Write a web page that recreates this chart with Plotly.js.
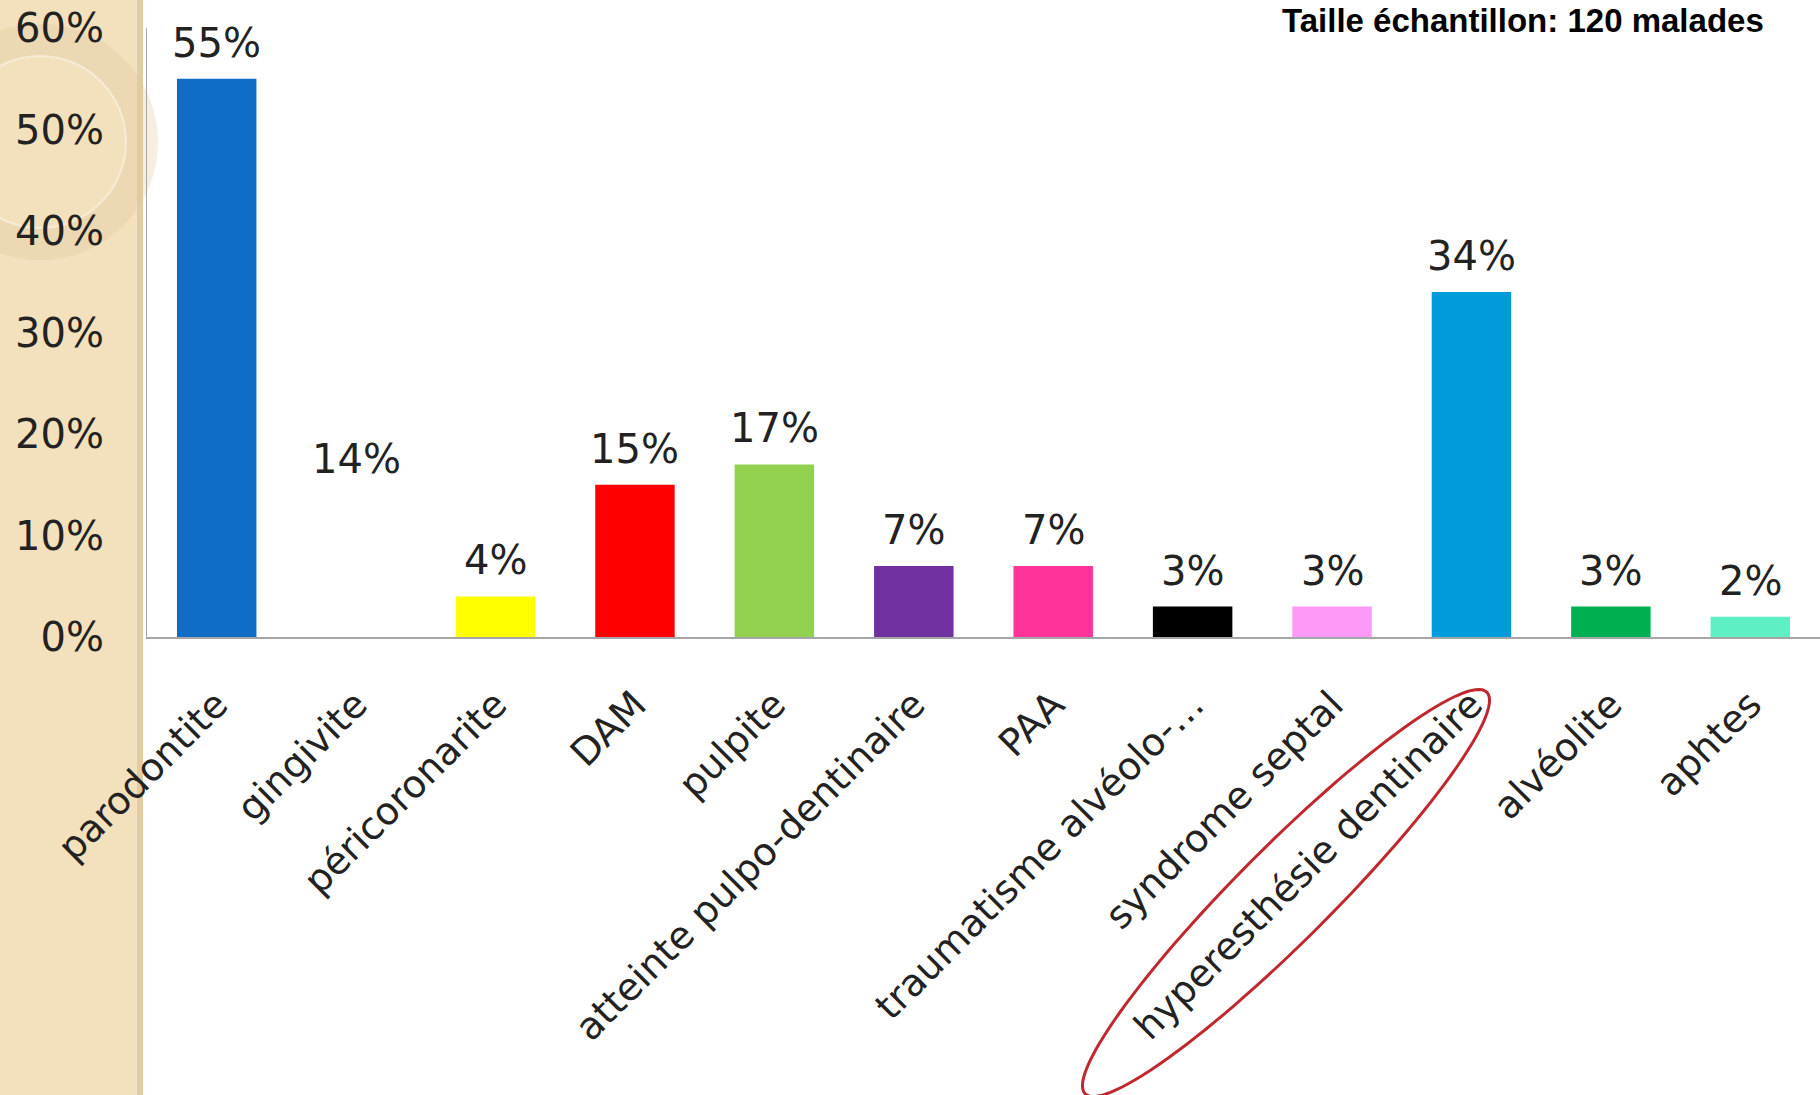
<!DOCTYPE html>
<html>
<head>
<meta charset="utf-8">
<script src="https://cdn.plot.ly/plotly-3.0.1.min.js"></script>
<style>
html,body{margin:0;padding:0;background:#fff;}
#chart{width:1820px;height:1095px;}
</style>
</head>
<body>
<div id="chart"></div>
<script>
// ---- data ----
const categories = ["parodontite","gingivite","péricoronarite","DAM","pulpite","atteinte pulpo-dentinaire","PAA","traumatisme alvéolo-…","syndrome septal","hyperesthésie dentinaire","alvéolite","aphtes"];
const values = [55, 14, 4, 15, 17, 7, 7, 3, 3, 34, 3, 2];
const barColors = ["#116CC6","#FFFFFF","#FFFF00","#FF0000","#92D050","#7030A0","#FF3399","#000000","#FF99F8","#009BDA","#00B050","#5EF0C4"];
const yTickVals = [0,10,20,30,40,50,60];
const noteText = "Taille échantillon: 120 malades";

// ---- geometry helpers (page pixels -> paper) ----
const W = 1820, H = 1095;
const mL = 147, mR = 0, mT = 28, mB = 458;
const pw = W - mL - mR, ph = H - mT - mB;
const px = x => (x - mL) / pw;
const py = y => (H - mB - y) / ph;

function ellipsePath(cx, cy, a, b, angDeg, n) {
  const t = angDeg * Math.PI / 180;
  let d = "";
  for (let i = 0; i <= n; i++) {
    const u = 2 * Math.PI * i / n;
    const ex = a * Math.cos(u), ey = b * Math.sin(u);
    const X = cx + ex * Math.cos(t) - ey * Math.sin(t);
    const Y = cy - (ex * Math.sin(t) + ey * Math.cos(t));
    d += (i === 0 ? "M" : "L") + px(X).toFixed(5) + "," + py(Y).toFixed(5) + " ";
  }
  return d + "Z";
}

const font = "DejaVu Sans, sans-serif";

const trace = {
  type: "bar",
  x: categories,
  y: values,
  marker: {color: barColors, line: {width: 0}},
  cliponaxis: false,
  hoverinfo: "none"
};

const shapes = [
  // beige side panel
  {type: "rect", xref: "paper", yref: "paper", x0: px(0), x1: px(143), y0: py(H), y1: py(0),
   fillcolor: "#F3E0BC", line: {width: 0}, layer: "below"},
  {type: "rect", xref: "paper", yref: "paper", x0: px(137), x1: px(143), y0: py(H), y1: py(0),
   fillcolor: "#E3CCA2", line: {width: 0}, layer: "below"},
  // decorative ring
  {type: "circle", xref: "paper", yref: "paper", x0: px(40 - 102), x1: px(40 + 102), y0: py(142 + 102), y1: py(142 - 102),
   line: {color: "rgba(222,200,155,0.30)", width: 32}, layer: "below"},
  {type: "circle", xref: "paper", yref: "paper", x0: px(40 - 86), x1: px(40 + 86), y0: py(142 + 86), y1: py(142 - 86),
   line: {color: "rgba(255,255,255,0.45)", width: 2}, layer: "below"},
  // red ellipse around the highlighted label
  {type: "path", xref: "paper", yref: "paper", path: ellipsePath(1286, 893, 284, 47, 45, 120),
   line: {color: "#C0272F", width: 3}, fillcolor: "rgba(0,0,0,0)", layer: "above"}
];

const valueLabels = categories.map((c, i) => ({
  xref: "x", yref: "y", x: c, y: values[i],
  xanchor: "center", yanchor: "middle", yshift: 36,
  text: values[i] + "%", showarrow: false,
  font: {family: font, size: 40, color: "#222222"}
}));

const layout = {
  width: W, height: H,
  margin: {l: mL, r: mR, t: mT, b: mB, pad: 0},
  paper_bgcolor: "rgba(0,0,0,0)",
  plot_bgcolor: "rgba(0,0,0,0)",
  showlegend: false,
  bargap: 0.43,
  font: {family: font, color: "#222222"},
  xaxis: {
    type: "category",
    tickangle: -45,
    tickfont: {family: font, size: 38, color: "#222222"},
    showline: true, linecolor: "#A6A6A6", linewidth: 2,
    ticks: "", ticklabelstandoff: 28,
    showgrid: false, zeroline: false, fixedrange: true
  },
  yaxis: {
    range: [0, 60],
    tickvals: yTickVals,
    ticktext: yTickVals.map(v => v + "%"),
    tickfont: {family: font, size: 40, color: "#222222"},
    showline: true, linecolor: "#A6A6A6", linewidth: 1,
    ticks: "", ticklabelstandoff: 34,
    showgrid: false, zeroline: false, fixedrange: true
  },
  shapes: shapes,
  annotations: valueLabels.concat([{
    xref: "paper", yref: "paper",
    x: px(1523), y: py(0), xanchor: "center", yanchor: "top",
    text: "<b>" + noteText + "</b>", showarrow: false,
    font: {family: "Liberation Sans Narrow, Liberation Sans, sans-serif", size: 33, color: "#000000"}
  }])
};

Plotly.newPlot("chart", [trace], layout, {displayModeBar: false, staticPlot: true});
</script>
</body>
</html>
